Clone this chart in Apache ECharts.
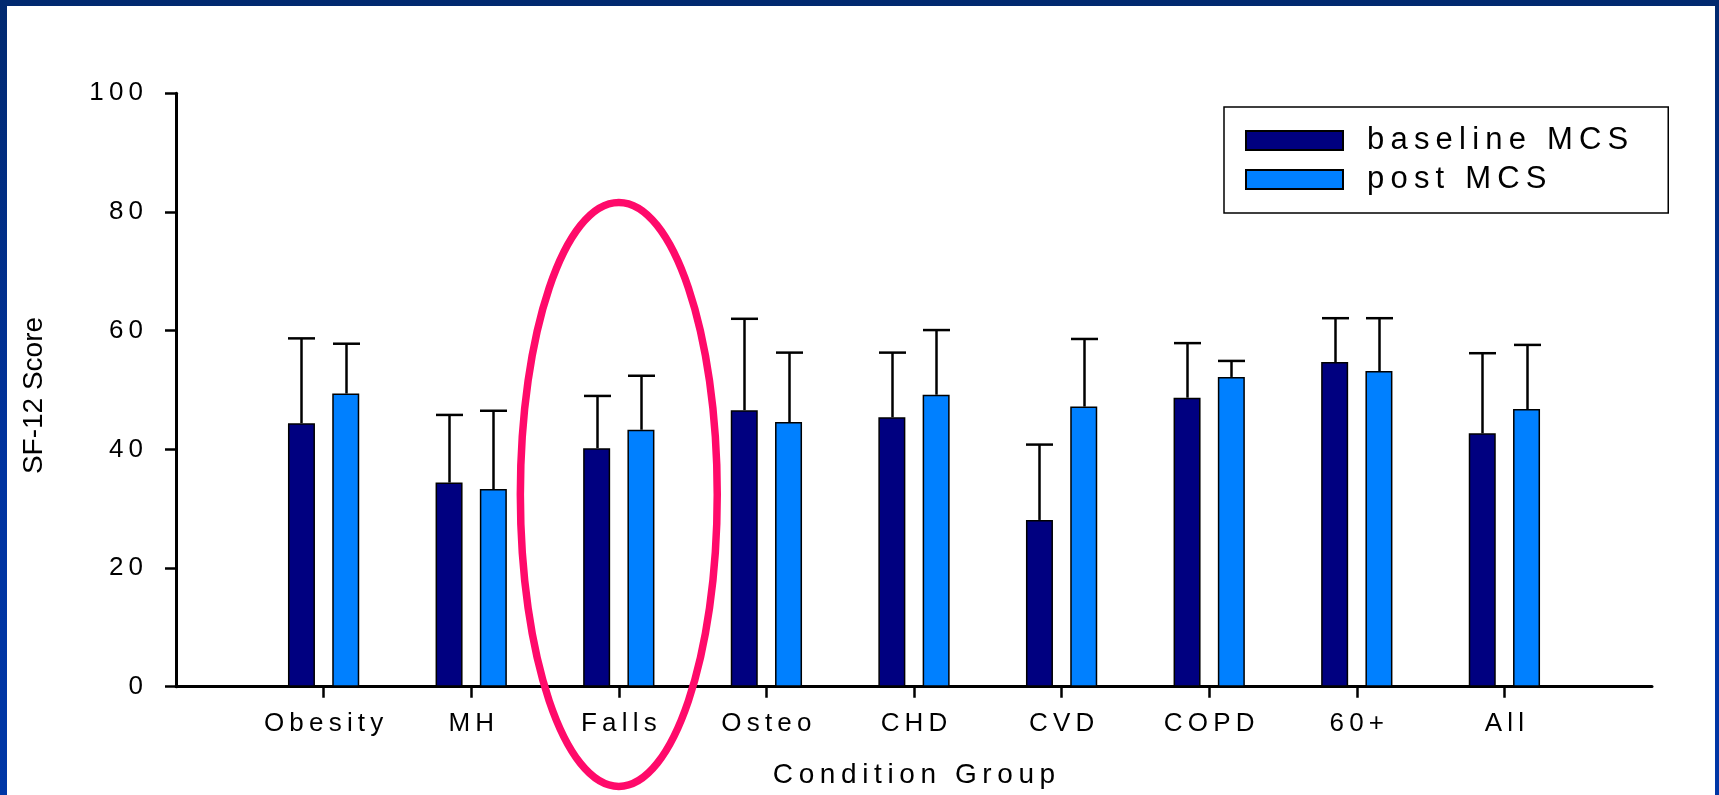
<!DOCTYPE html>
<html>
<head>
<meta charset="utf-8">
<script src="https://cdn.jsdelivr.net/npm/echarts@6/dist/echarts.min.js"></script>
<style>
  html, body { margin: 0; padding: 0; width: 1719px; height: 795px; overflow: hidden; }
  body { background: linear-gradient(to bottom, #01296f 0%, #0033a0 60%, #0037a6 100%); position: relative; }
  #paper { position: absolute; left: 7px; top: 6px; right: 4px; bottom: 0; background: #ffffff; }
  #chart { position: absolute; left: 0; top: 0; width: 1719px; height: 795px; }
</style>
</head>
<body>
<div id="paper"></div>
<div id="chart"></div>
<script>
// ---- data ----
const categories   = ['Obesity', 'MH', 'Falls', 'Osteo', 'CHD', 'CVD', 'COPD', '60+', 'All'];
const baselineMCS  = [44.4, 34.4, 40.2, 46.6, 45.4, 28.1, 48.7, 54.7, 42.7];
const baselineSD   = [14.3, 11.4, 8.8, 15.4, 10.9, 12.7, 9.2, 7.4, 13.5];
const postMCS      = [49.4, 33.3, 43.3, 44.6, 49.2, 47.2, 52.2, 53.2, 46.8];
const postSD       = [8.4, 13.2, 9.1, 11.7, 10.9, 11.4, 2.7, 8.9, 10.8];
const seriesNames  = ['baseline MCS', 'post MCS'];
const yMin = 0, yMax = 100, yStep = 20;
const highlighted  = 'Falls';

// ---- styling ----
const FONT = "'Liberation Sans', Arial, Helvetica, sans-serif";
const BAR_W = 27, BAR_GAP = 0.64;
const barOffset = (BAR_W + BAR_W * BAR_GAP) / 2;
const TH = '\u2009';
const spaced = s => s.split(' ').map(w => w.split('').join(TH)).join(TH + ' ' + TH);

// padded category axis: empty slot at each end so the axis runs one band past first/last group
const axisCats = [''].concat(categories, ['']);
const pad = arr => ['-'].concat(arr, ['-']);
const errData = (means, sds) => means.map((m, i) => [i + 1, m, +(m + sds[i]).toFixed(2)]);

function errRender(sign) {
  return function (params, api) {
    const x = api.value(0), v = api.value(1), h = api.value(2);
    const pTop = api.coord([x, h]);
    const pBase = api.coord([x, v]);
    const cx = Math.round(pTop[0] + sign * barOffset) + 0.5;
    const st = { stroke: '#000', lineWidth: 2.5 };
    return {
      type: 'group',
      children: [
        { type: 'line', shape: { x1: cx, y1: pBase[1], x2: cx, y2: pTop[1] }, style: st },
        { type: 'line', shape: { x1: cx - BAR_W / 2, y1: pTop[1], x2: cx + BAR_W / 2, y2: pTop[1] }, style: st }
      ]
    };
  };
}

const chart = echarts.init(document.getElementById('chart'), null, { renderer: 'canvas' });
const option = {
  animation: false,
  backgroundColor: 'transparent',
  textStyle: { fontFamily: FONT, color: '#000' },
  grid: { left: 176, right: 67, top: 93.3, bottom: 108.3, containLabel: false },
  legend: {
    data: seriesNames,
    orient: 'vertical',
    left: 1224, top: 107,
    padding: [18, 40, 18, 21],
    itemWidth: 97, itemHeight: 19, itemGap: 8,
    backgroundColor: '#fff',
    borderColor: '#000', borderWidth: 1.5,
    icon: 'rect',
    formatter: name => spaced(name),
    textStyle: { fontFamily: FONT, fontSize: 31, color: '#000', lineHeight: 30, padding: [0, 0, 0, 19] }
  },
  xAxis: {
    type: 'category',
    data: axisCats,
    boundaryGap: false,
    name: spaced('Condition Group'),
    nameLocation: 'middle',
    nameGap: 75,
    nameTextStyle: { fontFamily: FONT, fontSize: 28, color: '#000' },
    axisLine: { show: true, onZero: false, lineStyle: { color: '#000', width: 3 } },
    axisTick: { show: true, length: 11, lineStyle: { color: '#000', width: 2.5 },
                interval: (i, v) => v !== '' },
    axisLabel: { interval: 0, margin: 24, fontFamily: FONT, fontSize: 26, color: '#000',
                 formatter: v => spaced(v) },
    splitLine: { show: false }
  },
  yAxis: {
    type: 'value',
    min: yMin, max: yMax, interval: yStep,
    name: 'SF-12 Score',
    nameLocation: 'middle',
    nameRotate: 90,
    nameGap: 128,
    nameTextStyle: { fontFamily: FONT, fontSize: 28, color: '#000', padding: [0, 11, 0, 0] },
    axisLine: { show: true, lineStyle: { color: '#000', width: 3 } },
    axisTick: { show: true, length: 11, lineStyle: { color: '#000', width: 2.5 } },
    axisLabel: { margin: 33, fontFamily: FONT, fontSize: 26, color: '#000',
                 formatter: v => String(v).split('').join(TH) },
    splitLine: { show: false }
  },
  series: [
    {
      name: seriesNames[0], type: 'bar', data: pad(baselineMCS),
      barWidth: BAR_W, barGap: (BAR_GAP * 100) + '%',
      itemStyle: { color: '#000080', borderColor: '#000', borderWidth: 1.5 },
      z: 2
    },
    {
      name: seriesNames[1], type: 'bar', data: pad(postMCS),
      barWidth: BAR_W, barGap: (BAR_GAP * 100) + '%',
      itemStyle: { color: '#0080ff', borderColor: '#000', borderWidth: 1.5 },
      z: 2
    },
    {
      name: 'baseline SD', type: 'custom', data: errData(baselineMCS, baselineSD),
      encode: { x: 0, y: [1, 2] }, renderItem: errRender(-1), z: 3, silent: true
    },
    {
      name: 'post SD', type: 'custom', data: errData(postMCS, postSD),
      encode: { x: 0, y: [1, 2] }, renderItem: errRender(1), z: 3, silent: true
    }
  ]
};
chart.setOption(option);

// highlight ellipse around the chosen group, placed through the axes
(function () {
  const idx = axisCats.indexOf(highlighted);
  const c = chart.convertToPixel({ gridIndex: 0 }, [idx, 32.4]);
  const n = chart.convertToPixel({ gridIndex: 0 }, [idx + 1, 32.4]);
  const t = chart.convertToPixel({ gridIndex: 0 }, [idx, 32.4 + 49.2]);
  const rx = (n[0] - c[0]) * 0.667;
  const ry = c[1] - t[1];
  chart.setOption({
    graphic: [{
      type: 'ellipse', z: 100, silent: true,
      shape: { cx: c[0], cy: c[1], rx: rx, ry: ry },
      style: { fill: 'none', stroke: '#ff0a6a', lineWidth: 7.5 }
    }]
  });
})();
</script>
</body>
</html>
